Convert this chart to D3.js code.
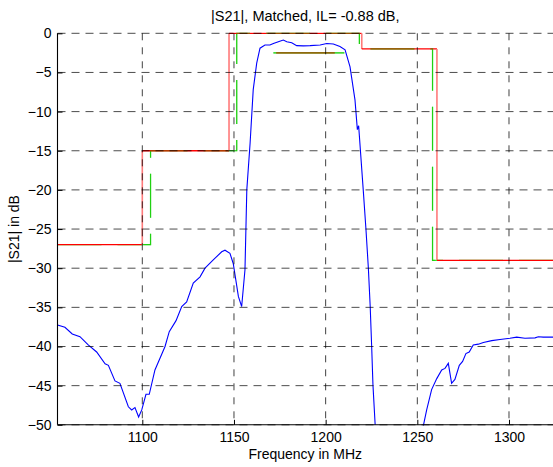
<!DOCTYPE html>
<html><head><meta charset="utf-8">
<script src="https://cdn.jsdelivr.net/npm/d3@7"></script>
<style>
body{margin:0;background:#fff;}
text{font-family:"Liberation Sans",Arial,sans-serif;fill:#000;}
</style></head>
<body><svg id="c" width="553" height="467"></svg>
<script>
// ---- data ----
const xTicks = [1100, 1150, 1200, 1250, 1300];
const yTicks = [0, -5, -10, -15, -20, -25, -30, -35, -40, -45, -50];
const titleText = "|S21|, Matched, IL= -0.88 dB,";
const xLabel = "Frequency in MHz";
const yLabel = "|S21| in dB";

const freq = [1053.75,1057.8,1061.8,1066,1070.5,1075.1,1079.7,1081.5,1085.1,1087.8,1092.4,1094.2,1096,1098,1099.7,1102,1103.8,1106.9,1112.4,1114.7,1118.4,1121.5,1124.2,1127.8,1131.5,1134.2,1138.7,1143.3,1145.1,1147.8,1149.6,1152.4,1154.2,1156,1157,1158.8,1160.5,1162.4,1164.2,1166.9,1169.6,1171.5,1174.2,1176.9,1178.8,1181.5,1184.2,1187.8,1191.5,1197,1200.6,1204.2,1207.8,1210.6,1213.3,1216,1217.3,1218,1220.5,1222,1223.3,1224.3,1225.1,1225.8,1227,1240,1253.3,1255.1,1257.8,1260.6,1263.3,1265.1,1266.9,1268.7,1270.5,1272.9,1274.7,1276.5,1278.3,1280.5,1283.3,1286,1290.6,1295.1,1300.5,1304.2,1308.7,1314.2,1316,1318.7,1324];
const s21 = [-37.25,-37.55,-38.4,-38.75,-39.8,-40.7,-42.2,-42.4,-44.4,-44.7,-47.7,-48.1,-47.8,-49,-48.1,-46.1,-46.1,-43,-40,-38.1,-36.7,-34.9,-34.3,-31.9,-31.1,-30.0,-28.95,-27.9,-27.7,-28.1,-29.4,-33.6,-34.9,-30.2,-20,-14,-7.2,-3.8,-1.9,-1.5,-1.5,-1.3,-1.07,-0.86,-1.07,-1.2,-1.58,-1.6,-1.58,-1.5,-1.3,-1.37,-1.7,-2.1,-4.3,-8.5,-12.3,-11.8,-20,-25.1,-30,-34.9,-40,-44.9,-50,null,-50.1,-48.1,-45.5,-44.1,-43,-42.8,-42.15,-44.7,-44.2,-42.4,-41.9,-40.9,-40.7,-39.8,-39.7,-39.5,-39.25,-39.1,-38.95,-38.8,-38.95,-38.9,-38.75,-38.8,-38.8];

const redMaskF  = [1053.75,1100,1100,1147.3,1147.3,1219.7,1219.7,1260.7,1260.7,1324];
const redMaskDb = [-27,-27,-15,-15,0,0,-2,-2,-29,-29];
const greenMaskF  = [1053.75,1104.5,1104.5,1151.5,1151.5,1218.4,1218.4,1258.3,1258.3,1324];
const greenMaskDb = [-27,-27,-15,-15,0,0,-2,-2,-29,-29];
const redPassF = [1173,1205];
const redPassDb = [-2.5,-2.5];
const greenPassF = [1171.5,1210.2];
const greenPassDb = [-2.5,-2.5];

// ---- chart ----
const svg = d3.select("#c");
const L = 57.5, R = 553, T = 33.3, B = 424.8;
const x = d3.scaleLinear().domain([1053.75, 1324]).range([L, R]);
const y = d3.scaleLinear().domain([-50, 0]).range([B, T]);

const defs = svg.append("defs");
defs.append("clipPath").attr("id","clip")
  .append("rect").attr("x",L).attr("y",T-1).attr("width",R-L).attr("height",B-T+2);
defs.append("clipPath").attr("id","clipMid")
  .append("rect").attr("x",x(1100)+1).attr("y",T-2).attr("width",x(1259.5)-x(1100)-1).attr("height",B-T+4);

const toPts = (fs, vs) => fs.map((f,i)=>({f, v: vs[i]}));
const line = d3.line().defined(d=>d.v!=null).x(d=>x(d.f)).y(d=>y(d.v));

const plot = svg.append("g").attr("clip-path","url(#clip)");

// green mask (under)
const dashG = "44,16";
plot.append("path").datum(toPts(greenMaskF, greenMaskDb)).attr("d", line)
  .attr("fill","none").attr("stroke","#22ee22").attr("stroke-width",1.2).attr("stroke-dasharray",dashG);
plot.append("path").datum(toPts(greenPassF, greenPassDb)).attr("d", line)
  .attr("fill","none").attr("stroke","#22ee22").attr("stroke-width",1.2);

// red mask: horizontal segments pure red, vertical segments lighter
const rp = toPts(redMaskF, redMaskDb);
for (let i=0;i<rp.length-1;i++){
  const a = rp[i], b = rp[i+1];
  const vert = a.f === b.f;
  plot.append("path").datum([a,b]).attr("d", line).attr("fill","none")
    .attr("stroke", vert ? "#ff7a7a" : "#ff0000").attr("stroke-width", vert ? 1.6 : 1.3);
}
plot.append("path").datum(toPts(redPassF, redPassDb)).attr("d", line)
  .attr("fill","none").attr("stroke","#ee1100").attr("stroke-width",1.2);

// green overlay for blended look (only in the middle part, as in the reference)
const ov = svg.append("g").attr("clip-path","url(#clipMid)");
ov.append("path").datum(toPts(greenMaskF, greenMaskDb)).attr("d", line)
  .attr("fill","none").attr("stroke","#22aa00").attr("stroke-width",1.2).attr("stroke-dasharray",dashG).attr("stroke-opacity",0.45);
ov.append("path").datum(toPts(greenPassF, greenPassDb)).attr("d", line)
  .attr("fill","none").attr("stroke","#22aa00").attr("stroke-width",1.2).attr("stroke-opacity",0.45);

// blue measured curve
plot.append("path").datum(toPts(freq, s21)).attr("d", line)
  .attr("fill","none").attr("stroke","#0000ff").attr("stroke-width",1.1);

// grid (on top)
const grid = svg.append("g");
grid.selectAll("line.gx").data(xTicks).join("line")
  .attr("x1",d=>x(d)).attr("x2",d=>x(d)).attr("y1",T).attr("y2",B)
  .attr("stroke","#000").attr("stroke-opacity",0.75).attr("stroke-dasharray","7,7");
grid.selectAll("line.gy").data(yTicks).join("line")
  .attr("x1",L).attr("x2",R).attr("y1",d=>y(d)).attr("y2",d=>y(d))
  .attr("stroke","#000").attr("stroke-opacity",0.7).attr("stroke-dasharray","8,6");

// axes
const xAxis = d3.axisBottom(x).tickValues(xTicks).tickSize(-5).tickPadding(7).tickFormat(d3.format("d"));
const yAxis = d3.axisLeft(y).tickValues(yTicks).tickSize(-5).tickPadding(6).tickFormat(d=>d3.format("d")(d));
const gx = svg.append("g").attr("transform",`translate(0,${B})`).call(xAxis);
const gy = svg.append("g").attr("transform",`translate(${L},0)`).call(yAxis);
[gx, gy].forEach(g=>{
  g.select(".domain").attr("stroke","#000").attr("stroke-width",1.1);
  g.selectAll(".tick line").attr("stroke","#000");
  g.selectAll("text").attr("font-size",14).attr("font-family","Liberation Sans, Arial, sans-serif").attr("fill","#000");
});
gx.select(".domain").attr("d",`M${L},0H${R}`);
gy.select(".domain").attr("d",`M0,${T}V${B}`);

svg.append("text").attr("x",(L+R)/2).attr("y",21).attr("text-anchor","middle")
  .attr("font-size",14.5).text(titleText);
svg.append("text").attr("x",(L+R)/2).attr("y",459).attr("text-anchor","middle")
  .attr("font-size",14).text(xLabel);
svg.append("text").attr("transform",`translate(19,${(T+B)/2}) rotate(-90)`).attr("text-anchor","middle")
  .attr("font-size",14).text(yLabel);
</script></body></html>
